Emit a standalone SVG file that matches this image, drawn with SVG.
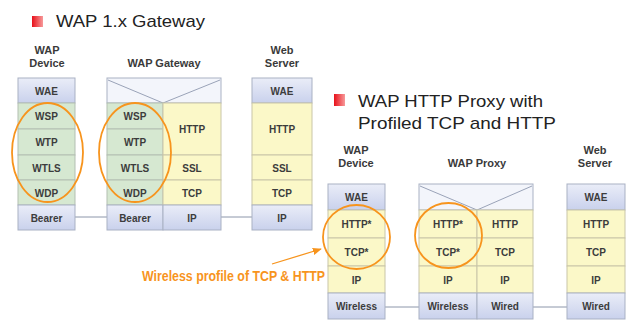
<svg xmlns="http://www.w3.org/2000/svg" width="628" height="320" viewBox="0 0 628 320">
<defs>
<linearGradient id="red" x1="0" y1="0" x2="1" y2="0"><stop offset="0" stop-color="#E8101A"/><stop offset="1" stop-color="#F79A9A"/></linearGradient>
<linearGradient id="blue" x1="0" y1="0" x2="0" y2="1"><stop offset="0" stop-color="#EAEDF8"/><stop offset="1" stop-color="#C9D1EC"/></linearGradient>
<marker id="arr" viewBox="0 0 10 10" refX="9" refY="5" markerWidth="7" markerHeight="7" orient="auto"><path d="M0,1 L10,5 L0,9 z" fill="#F7941D"/></marker>
<style>
.t{font-family:"Liberation Sans",Arial,sans-serif;font-size:17px;fill:#222}
.h{font-family:"Liberation Sans",Arial,sans-serif;font-size:11px;font-weight:bold;fill:#3a3a3a;text-anchor:middle}
.c{font-family:"Liberation Sans",Arial,sans-serif;font-size:10px;font-weight:bold;fill:#3c3c3c;text-anchor:middle}
.b{fill:url(#blue);stroke:#A9B1C4;stroke-width:1}
.g{fill:#D6E8D1;stroke:#B3BFB2;stroke-width:1}
.y{fill:#FBF8C8;stroke:#C9C6A8;stroke-width:1}
.v{fill:#F3F5FB;stroke:#A9B1C4;stroke-width:1}
.vl{stroke:#9AA3B8;stroke-width:1;fill:none}
.ln{stroke:#8C96AA;stroke-width:1;fill:none}
.el{fill:none;stroke:#F7941D;stroke-width:1.8}
.an{font-family:"Liberation Sans",Arial,sans-serif;font-size:14px;font-weight:bold;fill:#F7941D}
</style>
</defs>
<rect width="628" height="320" fill="#fff"/>

<!-- Titles -->
<g id="title1">
<rect x="32" y="16" width="11" height="11" fill="url(#red)"/>
<text class="t" x="56" y="27" textLength="149" lengthAdjust="spacingAndGlyphs">WAP 1.x Gateway</text>
</g>
<g id="title2">
<rect x="334" y="94" width="11" height="12" fill="url(#red)"/>
<text class="t" x="358" y="107" textLength="185" lengthAdjust="spacingAndGlyphs">WAP HTTP Proxy with</text>
<text class="t" x="358" y="129" textLength="198" lengthAdjust="spacingAndGlyphs">Profiled TCP and HTTP</text>
</g>

<!-- Connectors -->
<g id="connectors">
<line class="ln" x1="75" y1="217" x2="107" y2="217"/>
<line class="ln" x1="221" y1="217" x2="252" y2="217"/>
<line class="ln" x1="385" y1="307" x2="419" y2="307"/>
<line class="ln" x1="533" y1="307" x2="567" y2="307"/>
<line x1="272" y1="264" x2="321" y2="249" stroke="#F7941D" stroke-width="1.3" marker-end="url(#arr)"/>
</g>

<!-- Left diagram -->
<g id="wap-device-1">
<text class="h" x="47" y="53.5">WAP</text>
<text class="h" x="47" y="66.5">Device</text>
<rect class="b" x="18" y="78" width="57" height="25"/><text class="c" x="46.5" y="94.5">WAE</text>
<rect class="g" x="18" y="103" width="57" height="26"/><text class="c" x="46.5" y="120">WSP</text>
<rect class="g" x="18" y="129" width="57" height="26"/><text class="c" x="46.5" y="146">WTP</text>
<rect class="g" x="18" y="155" width="57" height="25"/><text class="c" x="46.5" y="171.5">WTLS</text>
<rect class="g" x="18" y="180" width="57" height="25"/><text class="c" x="46.5" y="196.5">WDP</text>
<rect class="b" x="18" y="205" width="57" height="25"/><text class="c" x="46.5" y="221.5">Bearer</text>
</g>

<g id="wap-gateway">
<text class="h" x="164" y="66.5">WAP Gateway</text>
<rect class="v" x="107" y="78" width="114" height="25"/>
<polyline class="vl" points="108,80 163,103 220,80"/>
<rect class="g" x="107" y="103" width="56" height="26"/><text class="c" x="135" y="120">WSP</text>
<rect class="g" x="107" y="129" width="56" height="26"/><text class="c" x="135" y="146">WTP</text>
<rect class="g" x="107" y="155" width="56" height="25"/><text class="c" x="135" y="171.5">WTLS</text>
<rect class="g" x="107" y="180" width="56" height="25"/><text class="c" x="135" y="196.5">WDP</text>
<rect class="b" x="107" y="205" width="56" height="25"/><text class="c" x="135" y="221.5">Bearer</text>
<rect class="y" x="163" y="103" width="58" height="52"/><text class="c" x="192" y="133">HTTP</text>
<rect class="y" x="163" y="155" width="58" height="25"/><text class="c" x="192" y="171.5">SSL</text>
<rect class="y" x="163" y="180" width="58" height="25"/><text class="c" x="192" y="196.5">TCP</text>
<rect class="b" x="163" y="205" width="58" height="25"/><text class="c" x="192" y="221.5">IP</text>
</g>

<g id="web-server-1">
<text class="h" x="282" y="53.5">Web</text>
<text class="h" x="282" y="66.5">Server</text>
<rect class="b" x="252" y="78" width="60" height="25"/><text class="c" x="282" y="94.5">WAE</text>
<rect class="y" x="252" y="103" width="60" height="52"/><text class="c" x="282" y="133">HTTP</text>
<rect class="y" x="252" y="155" width="60" height="25"/><text class="c" x="282" y="171.5">SSL</text>
<rect class="y" x="252" y="180" width="60" height="25"/><text class="c" x="282" y="196.5">TCP</text>
<rect class="b" x="252" y="205" width="60" height="25"/><text class="c" x="282" y="221.5">IP</text>
</g>

<g id="highlight-1">
<ellipse class="el" cx="47.5" cy="152.5" rx="35.5" ry="49.5"/>
<ellipse class="el" cx="135" cy="152.5" rx="36" ry="49.5"/>
</g>

<!-- Right diagram -->
<g id="wap-device-2">
<text class="h" x="356" y="154">WAP</text>
<text class="h" x="356" y="167">Device</text>
<rect class="b" x="328" y="184" width="57" height="26"/><text class="c" x="356.5" y="201">WAE</text>
<rect class="y" x="328" y="210" width="57" height="28"/><text class="c" x="356.5" y="228">HTTP*</text>
<rect class="y" x="328" y="238" width="57" height="28"/><text class="c" x="356.5" y="256">TCP*</text>
<rect class="y" x="328" y="266" width="57" height="27"/><text class="c" x="356.5" y="283.5">IP</text>
<rect class="b" x="328" y="293" width="57" height="26"/><text class="c" x="356.5" y="310">Wireless</text>
</g>

<g id="wap-proxy">
<text class="h" x="477" y="167">WAP Proxy</text>
<rect class="v" x="419" y="184" width="114" height="26"/>
<polyline class="vl" points="420,186 477,210 532,186"/>
<rect class="y" x="419" y="210" width="58" height="28"/><text class="c" x="448" y="228">HTTP*</text>
<rect class="y" x="419" y="238" width="58" height="28"/><text class="c" x="448" y="256">TCP*</text>
<rect class="y" x="419" y="266" width="58" height="27"/><text class="c" x="448" y="283.5">IP</text>
<rect class="b" x="419" y="293" width="58" height="26"/><text class="c" x="448" y="310">Wireless</text>
<rect class="y" x="477" y="210" width="56" height="28"/><text class="c" x="505" y="228">HTTP</text>
<rect class="y" x="477" y="238" width="56" height="28"/><text class="c" x="505" y="256">TCP</text>
<rect class="y" x="477" y="266" width="56" height="27"/><text class="c" x="505" y="283.5">IP</text>
<rect class="b" x="477" y="293" width="56" height="26"/><text class="c" x="505" y="310">Wired</text>
</g>

<g id="web-server-2">
<text class="h" x="595" y="154">Web</text>
<text class="h" x="595" y="167">Server</text>
<rect class="b" x="567" y="184" width="58" height="26"/><text class="c" x="596" y="201">WAE</text>
<rect class="y" x="567" y="210" width="58" height="28"/><text class="c" x="596" y="228">HTTP</text>
<rect class="y" x="567" y="238" width="58" height="28"/><text class="c" x="596" y="256">TCP</text>
<rect class="y" x="567" y="266" width="58" height="27"/><text class="c" x="596" y="283.5">IP</text>
<rect class="b" x="567" y="293" width="58" height="26"/><text class="c" x="596" y="310">Wired</text>
</g>

<g id="highlight-2">
<ellipse class="el" cx="356.5" cy="237" rx="33.5" ry="32"/>
<ellipse class="el" cx="448.5" cy="235.5" rx="33.5" ry="32.5"/>
</g>

<g id="annotation">
<text class="an" x="142" y="281" textLength="183" lengthAdjust="spacingAndGlyphs">Wireless profile of TCP &amp; HTTP</text>
</g>
</svg>
